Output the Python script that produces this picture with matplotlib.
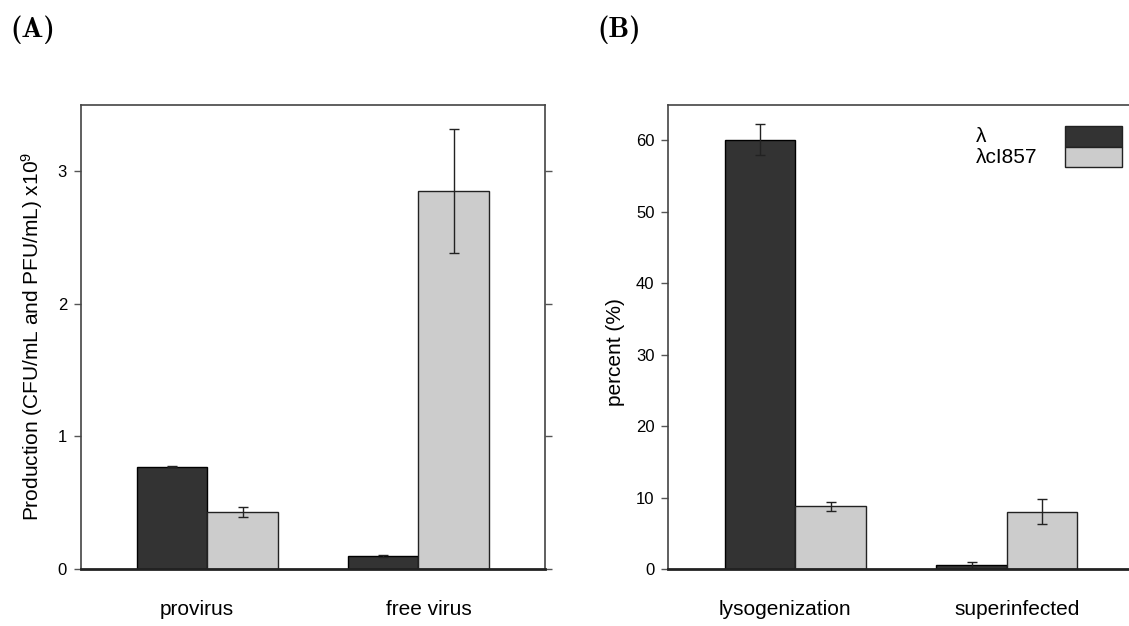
import matplotlib
matplotlib.use("Agg")
import matplotlib.pyplot as plt
import numpy as np
from matplotlib.patches import Rectangle

plt.rcParams['font.family'] = ['Liberation Sans', 'DejaVu Sans']
plt.rcParams['mathtext.fontset'] = 'custom'
plt.rcParams['mathtext.rm'] = 'Liberation Sans'
plt.rcParams['mathtext.it'] = 'Liberation Sans'

# panel A: production (x10^9)
groups_a = ['provirus', 'free virus']
lam_a = [0.77, 0.10]
lam_a_err = [0.004, 0.008]
ci_a = [0.43, 2.85]
ci_a_err = [0.04, 0.47]

# panel B: percent
groups_b = ['lysogenization', 'superinfected']
lam_b = [60.1, 0.6]
lam_b_err = [2.2, 0.42]
ci_b = [8.75, 8.0]
ci_b_err = [0.58, 1.75]

series_names = ['λ', 'λcI857']
dark = '#333333'
light = '#cccccc'

fig = plt.figure(figsize=(11.29, 6.26), dpi=100)
axA = fig.add_axes([0.0717, 0.0911, 0.411, 0.7417])
axB = fig.add_axes([0.592, 0.0911, 0.4123, 0.7417])


def panel(ax, groups, v1, e1, v2, e2, ymax, yticks, ylabel, lab_x, lab_y):
    start = 1 + 3 * np.arange(len(groups))
    ax.bar(start + 0.5, v1, width=1.0, color=dark, edgecolor='black', linewidth=1)
    ax.bar(start + 1.5, v2, width=1.0, color=light, edgecolor='#222222', linewidth=1)
    ax.errorbar(start + 0.5, v1, yerr=e1, fmt='none', ecolor='#222222',
                elinewidth=1, capsize=3.3, capthick=1)
    ax.errorbar(start + 1.5, v2, yerr=e2, fmt='none', ecolor='#222222',
                elinewidth=1, capsize=3.3, capthick=1)
    ax.set_xlim(0.2, 6.8)
    ax.set_ylim(0, ymax)
    ax.set_yticks(yticks)
    ax.set_yticklabels([str(t) for t in yticks], fontsize=12)
    ax.tick_params(axis='y', direction='out', length=5, width=1, color='#555555',
                   pad=5, right=True, labelright=False)
    # labels sit a bit off the group centres, as in the original
    ax.set_xticks([start[0] + 0.85, start[1] + 1.15])
    ax.set_xticklabels(groups, fontsize=15)
    ax.tick_params(axis='x', length=0, pad=22)
    for s in ['top', 'left', 'right']:
        ax.spines[s].set_color('#444444')
        ax.spines[s].set_linewidth(1.2)
    ax.spines['bottom'].set_color('#222222')
    ax.spines['bottom'].set_linewidth(2)
    ax.set_ylabel(ylabel, fontsize=15)
    ax.yaxis.set_label_coords(lab_x, lab_y)


panel(axA, groups_a, lam_a, lam_a_err, ci_a, ci_a_err, 3.5, [0, 1, 2, 3],
      r'Production (CFU/mL and PFU/mL) x10$^{9}$', -0.078, 0.5)
panel(axB, groups_b, lam_b, lam_b_err, ci_b, ci_b_err, 65, [0, 10, 20, 30, 40, 50, 60],
      'percent (%)', -0.093, 0.467)

# legend drawn by hand: text column on the left, keys on the right
for i, (name, col) in enumerate(zip(series_names, [dark, light])):
    y0 = 0.9095 - i * 0.0443
    axB.add_patch(Rectangle((0.852, y0), 0.122, 0.0443, transform=axB.transAxes,
                            facecolor=col, edgecolor='#222222', linewidth=1, clip_on=False))
    axB.text(0.661, y0 + 0.022, name, transform=axB.transAxes, fontsize=15,
             ha='left', va='center')

fig.text(0.009, 0.953, '(A)', fontsize=21, family='cmb10', ha='left', va='center')
fig.text(0.529, 0.953, '(B)', fontsize=21, family='cmb10', ha='left', va='center')

fig.savefig('out.png', dpi=100)
